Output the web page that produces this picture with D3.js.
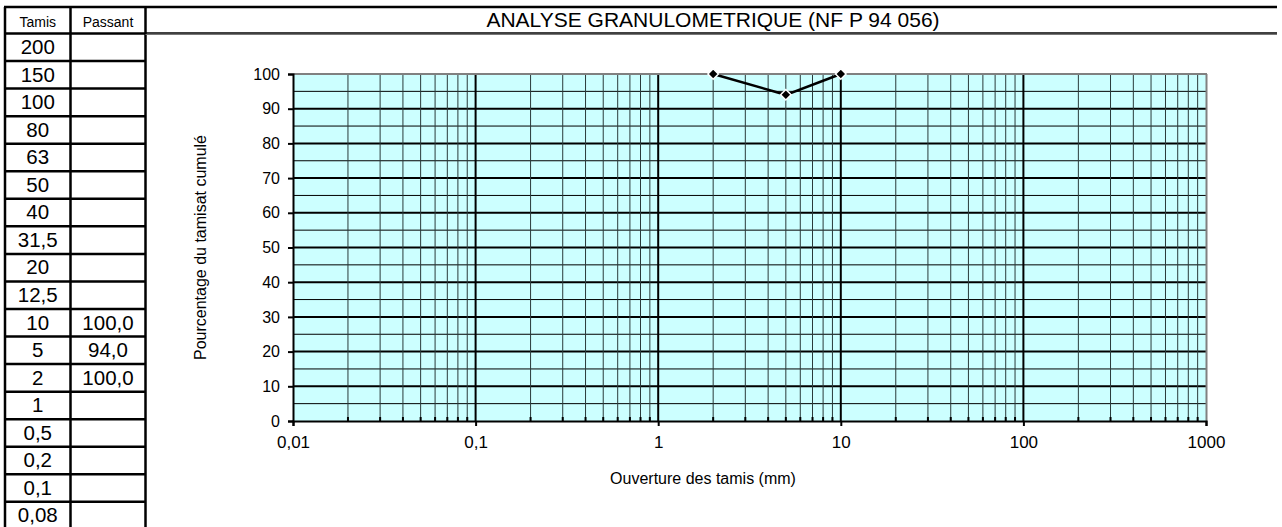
<!DOCTYPE html>
<html><head><meta charset="utf-8">
<script src="https://cdn.jsdelivr.net/npm/d3@7"></script>
<style>body{margin:0;background:#fff}svg{display:block}text{font-family:"Liberation Sans",Arial,sans-serif}</style>
</head><body>
<script>
const tamis = ["200","150","100","80","63","50","40","31,5","20","12,5","10","5","2","1","0,5","0,2","0,1","0,08"];
const passant = ["","","","","","","","","","","100,0","94,0","100,0","","","","",""];
const sizes = [2, 5, 10];
const values = [100, 94, 100];
const xTickVals = [0.01, 0.1, 1, 10, 100, 1000];
const xTickLabels = ["0,01","0,1","1","10","100","1000"];
const yTickVals = [0,10,20,30,40,50,60,70,80,90,100];

const W = 1282, H = 527;
const svg = d3.select("body").append("svg").attr("width", W).attr("height", H);

// Table
const colX = [5, 70.5, 145.5];
const headTop = 7, headBot = 33.5, rowH = 27.55;
const tbl = svg.append("g");
tbl.append("text").attr("x", (colX[0]+colX[1])/2).attr("y", 27).attr("text-anchor","middle").attr("font-size", 14).text("Tamis");
tbl.append("text").attr("x", (colX[1]+colX[2])/2).attr("y", 27).attr("text-anchor","middle").attr("font-size", 14).text("Passant");
tamis.forEach((t,i)=>{
  const y0 = headBot + i*rowH;
  tbl.append("text").attr("x",(colX[0]+colX[1])/2).attr("y", y0+20.5).attr("text-anchor","middle").attr("font-size",20.5).text(t);
  tbl.append("text").attr("x",(colX[1]+colX[2])/2).attr("y", y0+20.5).attr("text-anchor","middle").attr("font-size",20.5).text(passant[i]);
  tbl.append("line").attr("x1",colX[0]).attr("x2",colX[2]).attr("y1",y0+rowH).attr("y2",y0+rowH).attr("stroke","#000").attr("stroke-width",2.5);
});
const tblBottom = H + 10;
colX.forEach(x=>tbl.append("line").attr("x1",x).attr("x2",x).attr("y1",headTop).attr("y2",tblBottom).attr("stroke","#000").attr("stroke-width",2.5));
tbl.append("line").attr("x1",colX[0]-1).attr("x2",1277).attr("y1",headTop).attr("y2",headTop).attr("stroke","#000").attr("stroke-width",2.5);
tbl.append("line").attr("x1",colX[0]).attr("x2",colX[2]).attr("y1",headBot).attr("y2",headBot).attr("stroke","#000").attr("stroke-width",2.5);
tbl.append("line").attr("x1",colX[2]).attr("x2",1277).attr("y1",headBot-0.5).attr("y2",headBot-0.5).attr("stroke","#000").attr("stroke-width",1.5);
tbl.append("line").attr("x1",colX[2]).attr("x2",1277).attr("y1",headBot+1).attr("y2",headBot+1).attr("stroke","#777").attr("stroke-width",1);
tbl.append("text").attr("x",713).attr("y",27).attr("text-anchor","middle").attr("font-size",21).text("ANALYSE GRANULOMETRIQUE (NF P 94 056)");

// Chart
const x = d3.scaleLog().domain([0.01,1000]).range([293,1206]);
const y = d3.scaleLinear().domain([0,100]).range([421,74]);
const g = svg.append("g");
g.append("rect").attr("x",x(0.01)).attr("y",y(100)).attr("width",x(1000)-x(0.01)).attr("height",y(0)-y(100)).attr("fill","#CCFFFF");

// horizontal grid
d3.range(5,100,5).forEach(v=>{
  g.append("line").attr("x1",x(0.01)).attr("x2",x(1000)).attr("y1",y(v)).attr("y2",y(v))
   .attr("stroke","#000").attr("stroke-width", v%10===0 ? 2 : 1);
});
// vertical grid
const minors = [];
[0.01,0.1,1,10,100].forEach(d=>{ for(let k=2;k<=9;k++) minors.push(d*k); });
minors.forEach(v=>{
  g.append("line").attr("x1",x(v)).attr("x2",x(v)).attr("y1",y(100)).attr("y2",y(0)).attr("stroke","#2a3a3a").attr("stroke-width",1);
  g.append("line").attr("x1",x(v)).attr("x2",x(v)).attr("y1",y(0)-4).attr("y2",y(0)).attr("stroke","#000").attr("stroke-width",2);
});
[0.1,1,10,100].forEach(v=>{
  g.append("line").attr("x1",x(v)).attr("x2",x(v)).attr("y1",y(100)).attr("y2",y(0)).attr("stroke","#000").attr("stroke-width",2);
});
// border top/right grey
g.append("line").attr("x1",x(0.01)).attr("x2",x(1000)+1).attr("y1",y(100)).attr("y2",y(100)).attr("stroke","#808080").attr("stroke-width",2);
g.append("line").attr("x1",x(1000)+0.5).attr("x2",x(1000)+0.5).attr("y1",y(100)).attr("y2",y(0)).attr("stroke","#808080").attr("stroke-width",2);

// axes
const yAxis = d3.axisLeft(y).tickValues(yTickVals).tickSize(5).tickPadding(8).tickFormat(d3.format("d"));
const ya = g.append("g").attr("transform",`translate(${x(0.01)},0)`).call(yAxis);
ya.select(".domain").attr("stroke","#000").attr("stroke-width",2);
ya.selectAll(".tick line").attr("stroke","#000").attr("stroke-width",2);
ya.selectAll("text").attr("font-size",16).attr("font-family","Liberation Sans, Arial, sans-serif").attr("fill","#000");

const xAxis = d3.axisBottom(x).tickValues(xTickVals).tickSize(5).tickPadding(10).tickFormat((d,i)=>xTickLabels[i]);
const xa = g.append("g").attr("transform",`translate(0,${y(0)})`).call(xAxis);
xa.select(".domain").attr("stroke","#000").attr("stroke-width",2);
xa.selectAll(".tick line").attr("stroke","#000").attr("stroke-width",2);
xa.selectAll("text").attr("font-size",17).attr("font-family","Liberation Sans, Arial, sans-serif").attr("fill","#000");

// axis titles
g.append("text").attr("transform",`translate(206,${(y(0)+y(100))/2}) rotate(-90)`).attr("text-anchor","middle").attr("font-size",16).text("Pourcentage du tamisat cumulé");
g.append("text").attr("x",703).attr("y",484).attr("text-anchor","middle").attr("font-size",16).text("Ouverture des tamis (mm)");

// data line
const pts = sizes.map((s,i)=>[s,values[i]]);
g.append("path").datum(pts).attr("d", d3.line().x(d=>x(d[0])).y(d=>y(d[1]))).attr("fill","none").attr("stroke","#000").attr("stroke-width",2.5);
g.selectAll(".mk").data(pts).enter().append("path").attr("class","mk")
  .attr("transform",d=>`translate(${x(d[0])},${y(d[1])})`)
  .attr("d", d3.symbol(d3.symbolDiamond2 || d3.symbolDiamond, 70)())
  .attr("fill","#000").attr("stroke","#fff").attr("stroke-width",1.5);
</script>
</body></html>
